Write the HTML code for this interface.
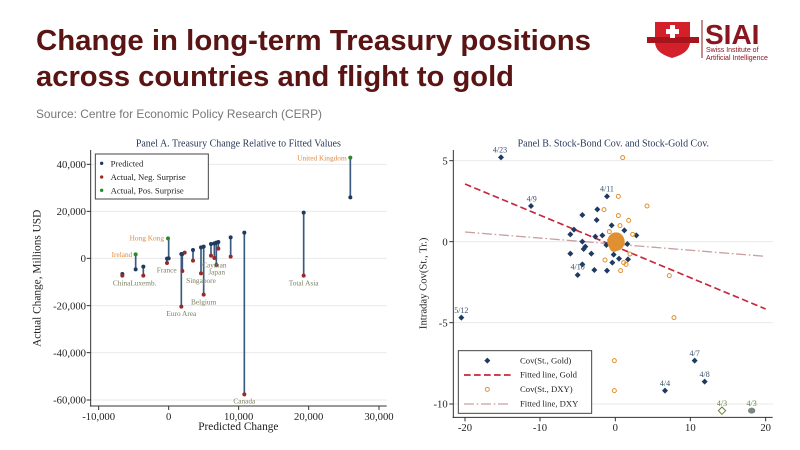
<!DOCTYPE html>
<html><head><meta charset="utf-8"><style>body{margin:0;background:#fff}svg{display:block}</style></head>
<body>
<svg width="800" height="450" viewBox="0 0 800 450" xmlns="http://www.w3.org/2000/svg" font-family="Liberation Serif, serif">
<rect width="800" height="450" fill="#fff"/>
<g font-family="Liberation Sans, sans-serif" font-weight="bold" fill="#5a1414" font-size="29">
<text x="36" y="50" textLength="555" lengthAdjust="spacingAndGlyphs">Change in long-term Treasury positions</text>
<text x="36" y="86" textLength="478" lengthAdjust="spacingAndGlyphs">across countries and flight to gold</text>
</g>
<text x="36" y="118" font-family="Liberation Sans, sans-serif" font-size="12" fill="#777" textLength="286" lengthAdjust="spacingAndGlyphs">Source: Centre for Economic Policy Research (CERP)</text>
<!-- logo -->
<path d="M655 22 L690 22 L690 42 Q690 53 672 58 Q655 53 655 42 Z" fill="#d3202a"/>
<rect x="647" y="37" width="52" height="6" fill="#a8141c"/>
<rect x="670" y="25" width="5" height="13" fill="#fff"/><rect x="666" y="29" width="13" height="5" fill="#fff"/>
<line x1="702" y1="20" x2="702" y2="58" stroke="#8a1a1a" stroke-width="1"/>
<text x="705" y="44" font-family="Liberation Sans, sans-serif" font-weight="bold" font-size="28" fill="#8a1620">SIAI</text>
<text x="706" y="52" font-family="Liberation Sans, sans-serif" font-size="7" fill="#8a1620">Swiss Institute of</text>
<text x="706" y="60" font-family="Liberation Sans, sans-serif" font-size="7" fill="#8a1620">Artificial Intelligence</text>

<!-- Panel A -->
<g transform="translate(20,130) scale(0.33333)">
<text x="655" y="50" font-size="30" fill="#2a3a5a" text-anchor="middle">Panel A. Treasury Change Relative to Fitted Values</text>
<g stroke="#eaeaea" stroke-width="3">
<line x1="212" y1="103" x2="1100" y2="103"/><line x1="212" y1="244" x2="1100" y2="244"/><line x1="212" y1="385" x2="1100" y2="385"/><line x1="212" y1="527" x2="1100" y2="527"/><line x1="212" y1="668" x2="1100" y2="668"/><line x1="212" y1="810" x2="1100" y2="810"/>
</g>
<g stroke="#333" stroke-width="3">
<line x1="212" y1="60" x2="212" y2="830"/><line x1="210" y1="828" x2="1100" y2="828"/>
<line x1="200" y1="103" x2="212" y2="103"/><line x1="200" y1="244" x2="212" y2="244"/><line x1="200" y1="385" x2="212" y2="385"/><line x1="200" y1="527" x2="212" y2="527"/><line x1="200" y1="668" x2="212" y2="668"/><line x1="200" y1="810" x2="212" y2="810"/>
<line x1="236" y1="828" x2="236" y2="840"/><line x1="446" y1="828" x2="446" y2="840"/><line x1="656" y1="828" x2="656" y2="840"/><line x1="866" y1="828" x2="866" y2="840"/><line x1="1077" y1="828" x2="1077" y2="840"/>
</g>
<g font-size="32" fill="#222" text-anchor="end">
<text x="198" y="114">40,000</text><text x="198" y="255">20,000</text><text x="198" y="396">0</text><text x="198" y="538">-20,000</text><text x="198" y="679">-40,000</text><text x="198" y="821">-60,000</text>
</g>
<g font-size="32" fill="#222" text-anchor="middle">
<text x="236" y="870">-10,000</text><text x="446" y="870">0</text><text x="656" y="870">10,000</text><text x="866" y="870">20,000</text><text x="1077" y="870">30,000</text>
<text x="655" y="900" font-size="34">Predicted Change</text>
<text transform="translate(62,445) rotate(-90)" font-size="34">Actual Change, Millions USD</text>
</g>
<g stroke="#3a5a80" stroke-width="5">
<line x1="307" y1="432" x2="307" y2="437"/><line x1="347" y1="418" x2="347" y2="373"/><line x1="370" y1="410" x2="370" y2="437"/>
<line x1="441" y1="386" x2="441" y2="399"/><line x1="446" y1="385" x2="446" y2="325"/><line x1="484" y1="372" x2="484" y2="530"/>
<line x1="487" y1="372" x2="487" y2="423"/><line x1="519" y1="360" x2="519" y2="392"/><line x1="543" y1="352" x2="543" y2="430"/>
<line x1="551" y1="350" x2="551" y2="494"/><line x1="573" y1="342" x2="573" y2="377"/><line x1="583" y1="340" x2="583" y2="384"/>
<line x1="589" y1="338" x2="589" y2="405"/><line x1="595" y1="336" x2="595" y2="356"/><line x1="632" y1="322" x2="632" y2="380"/>
<line x1="673" y1="308" x2="673" y2="793"/><line x1="851" y1="248" x2="851" y2="437"/><line x1="991" y1="202" x2="991" y2="83"/>
</g>
<g fill="#1f3a60">
<circle cx="307" cy="432" r="6"/><circle cx="347" cy="418" r="6"/><circle cx="370" cy="410" r="6"/><circle cx="446" cy="385" r="6"/><circle cx="484" cy="372" r="6"/><circle cx="487" cy="372" r="6"/><circle cx="519" cy="360" r="6"/><circle cx="543" cy="352" r="6"/><circle cx="551" cy="350" r="6"/><circle cx="573" cy="342" r="6"/><circle cx="583" cy="340" r="6"/><circle cx="589" cy="338" r="6"/><circle cx="595" cy="336" r="6"/><circle cx="632" cy="322" r="6"/><circle cx="673" cy="308" r="6"/><circle cx="851" cy="248" r="6"/><circle cx="991" cy="202" r="6"/><circle cx="441" cy="386" r="6"/>
</g>
<g fill="#9a2a2a">
<circle cx="307" cy="437" r="6"/><circle cx="370" cy="437" r="6"/><circle cx="441" cy="399" r="6"/><circle cx="484" cy="530" r="6"/><circle cx="487" cy="423" r="6"/><circle cx="494" cy="368" r="6"/><circle cx="519" cy="392" r="6"/><circle cx="543" cy="430" r="6"/><circle cx="551" cy="494" r="6"/><circle cx="573" cy="377" r="6"/><circle cx="583" cy="384" r="6"/><circle cx="589" cy="405" r="6"/><circle cx="595" cy="356" r="6"/><circle cx="632" cy="380" r="6"/><circle cx="673" cy="793" r="6"/><circle cx="851" cy="437" r="6"/>
</g>
<g fill="#2a8a2a"><circle cx="347" cy="373" r="6"/><circle cx="444" cy="325" r="6"/><circle cx="991" cy="83" r="6"/></g>
<g font-size="22" fill="#7a8060" text-anchor="middle">
<text x="305" y="467">China</text><text x="370" y="467">Luxemb.</text><text x="440" y="427">France</text><text x="484" y="558">Euro Area</text><text x="543" y="459">Singapore</text><text x="551" y="523">Belgium</text><text x="583" y="412">Cayman</text><text x="590" y="434">Japan</text><text x="673" y="820">Canada</text><text x="851" y="466">Total Asia</text>
</g>
<g font-size="22" fill="#e08a40" text-anchor="end">
<text x="337" y="381">Ireland</text><text x="432" y="332">Hong Kong</text><text x="980" y="91">United Kingdom</text>
</g>
<rect x="226" y="72" width="339" height="135" fill="#fff" stroke="#444" stroke-width="3"/>
<circle cx="245" cy="100" r="5" fill="#1f3a60"/><circle cx="245" cy="141" r="5" fill="#9a2a2a"/><circle cx="245" cy="181" r="5" fill="#2a8a2a"/>
<g font-size="26" fill="#222"><text x="272" y="109">Predicted</text><text x="272" y="150">Actual, Neg. Surprise</text><text x="272" y="190">Actual, Pos. Surprise</text></g>
</g>

<!-- Panel B -->
<g transform="translate(410,130) scale(0.33333)">
<text x="610" y="50" font-size="30" fill="#2a3a5a" text-anchor="middle">Panel B. Stock-Bond Cov. and Stock-Gold Cov.</text>
<g stroke="#eaeaea" stroke-width="3">
<line x1="130" y1="92" x2="1088" y2="92"/><line x1="130" y1="335" x2="1088" y2="335"/><line x1="130" y1="578" x2="1088" y2="578"/><line x1="130" y1="822" x2="1088" y2="822"/>
</g>
<g stroke="#333" stroke-width="3">
<line x1="130" y1="60" x2="130" y2="864"/><line x1="128" y1="862" x2="1088" y2="862"/>
<line x1="118" y1="92" x2="130" y2="92"/><line x1="118" y1="335" x2="130" y2="335"/><line x1="118" y1="578" x2="130" y2="578"/><line x1="118" y1="822" x2="130" y2="822"/>
<line x1="165" y1="862" x2="165" y2="874"/><line x1="390" y1="862" x2="390" y2="874"/><line x1="616" y1="862" x2="616" y2="874"/><line x1="841" y1="862" x2="841" y2="874"/><line x1="1067" y1="862" x2="1067" y2="874"/>
</g>
<g font-size="32" fill="#222" text-anchor="end">
<text x="113" y="103">5</text><text x="113" y="346">0</text><text x="113" y="589">-5</text><text x="113" y="833">-10</text>
</g>
<g font-size="32" fill="#222" text-anchor="middle">
<text x="165" y="903">-20</text><text x="390" y="903">-10</text><text x="616" y="903">0</text><text x="841" y="903">10</text><text x="1067" y="903">20</text>
<text transform="translate(50,460) rotate(-90)" font-size="32">Intraday Cov(St., Tr.)</text>
</g>
<line x1="165" y1="162" x2="1067" y2="537" stroke="#c8283c" stroke-width="5" stroke-dasharray="20,10"/>
<line x1="165" y1="306" x2="1067" y2="379" stroke="#c8a0a0" stroke-width="4" stroke-dasharray="30,8,5,8"/>
<g fill="#1f3a60">
<path id="d" d="M0,-9 L9,0 L0,9 L-9,0Z" transform="translate(273,82)"/>
<path d="M0,-9 L9,0 L0,9 L-9,0Z" transform="translate(363,228)"/>
<path d="M0,-9 L9,0 L0,9 L-9,0Z" transform="translate(591,199)"/>
<path d="M0,-9 L9,0 L0,9 L-9,0Z" transform="translate(517,255)"/>
<path d="M0,-9 L9,0 L0,9 L-9,0Z" transform="translate(562,238)"/>
<path d="M0,-9 L9,0 L0,9 L-9,0Z" transform="translate(560,270)"/>
<path d="M0,-9 L9,0 L0,9 L-9,0Z" transform="translate(492,299)"/>
<path d="M0,-9 L9,0 L0,9 L-9,0Z" transform="translate(481,313)"/>
<path d="M0,-9 L9,0 L0,9 L-9,0Z" transform="translate(605,286)"/>
<path d="M0,-9 L9,0 L0,9 L-9,0Z" transform="translate(577,316)"/>
<path d="M0,-9 L9,0 L0,9 L-9,0Z" transform="translate(556,320)"/>
<path d="M0,-9 L9,0 L0,9 L-9,0Z" transform="translate(517,335)"/>
<path d="M0,-9 L9,0 L0,9 L-9,0Z" transform="translate(526,350)"/>
<path d="M0,-9 L9,0 L0,9 L-9,0Z" transform="translate(521,357)"/>
<path d="M0,-9 L9,0 L0,9 L-9,0Z" transform="translate(544,371)"/>
<path d="M0,-9 L9,0 L0,9 L-9,0Z" transform="translate(481,371)"/>
<path d="M0,-9 L9,0 L0,9 L-9,0Z" transform="translate(517,403)"/>
<path d="M0,-9 L9,0 L0,9 L-9,0Z" transform="translate(503,435)"/>
<path d="M0,-9 L9,0 L0,9 L-9,0Z" transform="translate(553,420)"/>
<path d="M0,-9 L9,0 L0,9 L-9,0Z" transform="translate(591,422)"/>
<path d="M0,-9 L9,0 L0,9 L-9,0Z" transform="translate(607,398)"/>
<path d="M0,-9 L9,0 L0,9 L-9,0Z" transform="translate(611,374)"/>
<path d="M0,-9 L9,0 L0,9 L-9,0Z" transform="translate(627,386)"/>
<path d="M0,-9 L9,0 L0,9 L-9,0Z" transform="translate(654,388)"/>
<path d="M0,-9 L9,0 L0,9 L-9,0Z" transform="translate(652,342)"/>
<path d="M0,-9 L9,0 L0,9 L-9,0Z" transform="translate(643,301)"/>
<path d="M0,-9 L9,0 L0,9 L-9,0Z" transform="translate(679,316)"/>
<path d="M0,-9 L9,0 L0,9 L-9,0Z" transform="translate(589,345)"/>
<path d="M0,-9 L9,0 L0,9 L-9,0Z" transform="translate(600,330)"/>
<path d="M0,-9 L9,0 L0,9 L-9,0Z" transform="translate(630,320)"/>
<path d="M0,-9 L9,0 L0,9 L-9,0Z" transform="translate(154,563)"/>
<path d="M0,-9 L9,0 L0,9 L-9,0Z" transform="translate(854,692)"/>
<path d="M0,-9 L9,0 L0,9 L-9,0Z" transform="translate(884,755)"/>
<path d="M0,-9 L9,0 L0,9 L-9,0Z" transform="translate(765,782)"/>
</g>
<g fill="#e09030">
<ellipse cx="618" cy="335" rx="26" ry="28"/><ellipse cx="612" cy="350" rx="14" ry="16"/>
</g>
<g fill="none" stroke="#e09030" stroke-width="3">
<circle cx="638" cy="83" r="6"/><circle cx="625" cy="199" r="6"/><circle cx="711" cy="228" r="6"/><circle cx="582" cy="239" r="6"/><circle cx="625" cy="257" r="6"/><circle cx="656" cy="271" r="6"/><circle cx="630" cy="287" r="6"/><circle cx="668" cy="313" r="6"/><circle cx="585" cy="390" r="6"/><circle cx="641" cy="398" r="6"/><circle cx="648" cy="403" r="6"/><circle cx="632" cy="422" r="6"/><circle cx="778" cy="437" r="6"/><circle cx="792" cy="563" r="6"/><circle cx="613" cy="692" r="6"/><circle cx="613" cy="782" r="6"/><circle cx="660" cy="372" r="6"/><circle cx="598" cy="305" r="6"/>
</g>
<path d="M0,-11 L11,0 L0,11 L-11,0Z" transform="translate(936,842)" fill="none" stroke="#6a8040" stroke-width="3"/>
<ellipse cx="1025" cy="842" rx="11" ry="9" fill="#7a8a80"/>
<g font-size="24" fill="#3a5070" text-anchor="middle">
<text x="270" y="68">4/23</text><text x="365" y="215">4/9</text><text x="591" y="185">4/11</text><text x="503" y="419">4/10</text><text x="154" y="549">5/12</text><text x="854" y="678">4/7</text><text x="884" y="741">4/8</text><text x="765" y="768">4/4</text>
</g>
<g font-size="24" fill="#6a8040" text-anchor="middle"><text x="936" y="828">4/3</text><text x="1025" y="828">4/3</text></g>
<rect x="145" y="662" width="400" height="188" fill="#fff" stroke="#444" stroke-width="3"/>
<path d="M0,-9 L9,0 L0,9 L-9,0Z" transform="translate(232,692)" fill="#1f3a60"/>
<line x1="162" y1="735" x2="302" y2="735" stroke="#c8283c" stroke-width="5" stroke-dasharray="20,10"/>
<circle cx="232" cy="778" r="6" fill="none" stroke="#e09030" stroke-width="3"/>
<line x1="162" y1="822" x2="302" y2="822" stroke="#c8a0a0" stroke-width="4" stroke-dasharray="30,8,5,8"/>
<g font-size="26" fill="#222"><text x="330" y="700">Cov(St., Gold)</text><text x="330" y="743">Fitted line, Gold</text><text x="330" y="786">Cov(St., DXY)</text><text x="330" y="830">Fitted line, DXY</text></g>
</g>
</svg>
</body></html>
